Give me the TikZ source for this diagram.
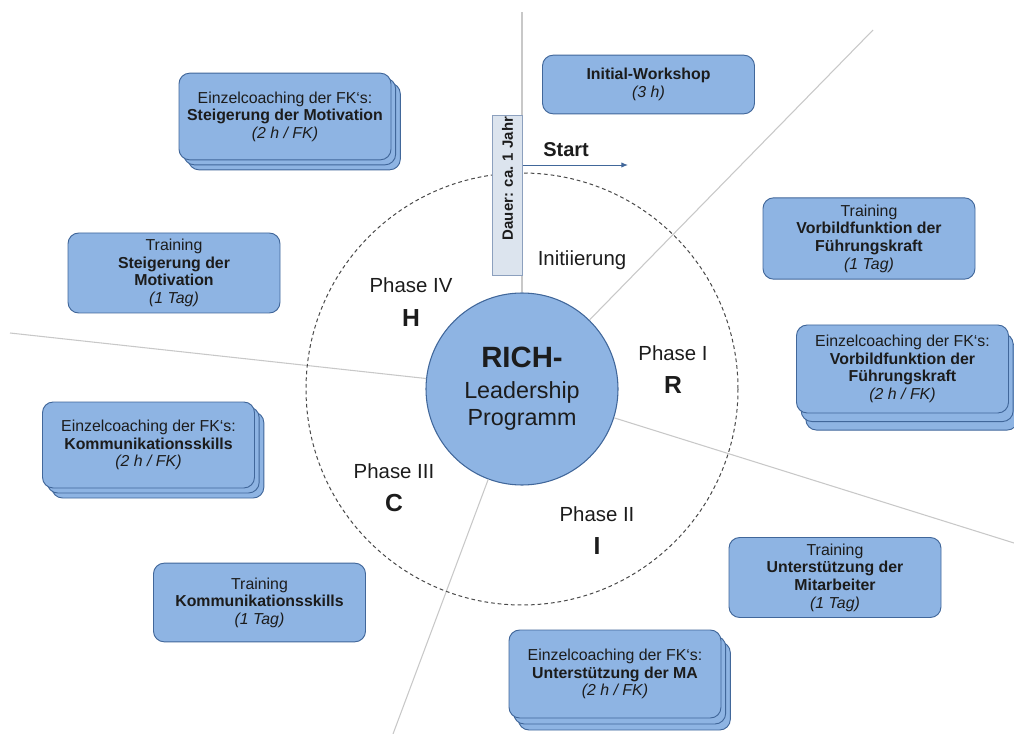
\documentclass[tikz,border=0pt]{standalone}
\usepackage{fontspec}
\setmainfont{Liberation Sans}
\usepackage{xcolor}
\usepackage{tikz}
\usetikzlibrary{arrows.meta,positioning,shadows}
\definecolor{PhaseBlue}{HTML}{8EB4E3}
\definecolor{EdgeBlue}{HTML}{41679A}
\definecolor{PaleBlue}{HTML}{DCE4EE}
\definecolor{PaleEdge}{HTML}{8CA0BE}
\definecolor{RayGray}{HTML}{C8C8C8}
\definecolor{Ink}{HTML}{1C1C1C}

\begin{document}
\begin{tikzpicture}[
  x=0.75pt,y=-0.75pt,
  every node/.style={text=Ink},
  box/.style={draw=EdgeBlue,line width=0.7pt,rounded corners=8pt,fill=PhaseBlue,minimum width=159pt,inner sep=3pt,align=center,font=\fontsize{11.9}{13.2}\selectfont},
  stack/.style 2 args={box,
    copy shadow={shadow xshift=7pt,shadow yshift=#2,fill=PhaseBlue,draw=EdgeBlue,line width=0.7pt},
    copy shadow={shadow xshift=3.5pt,shadow yshift=#1,fill=PhaseBlue,draw=EdgeBlue,line width=0.7pt}},
  hub/.style={circle,draw=EdgeBlue,line width=0.8pt,fill=PhaseBlue,minimum size=144pt,inner sep=0pt,align=center,font=\fontsize{17.5}{20.25}\selectfont},
  phase/.style={inner sep=0pt,font=\fontsize{15.3}{18}\selectfont},
  letter/.style={inner sep=0pt,font=\fontsize{18.5}{20}\selectfont\bfseries},
  dauer/.style={draw=PaleEdge,fill=PaleBlue,line width=0.6pt,rotate=90,minimum width=120pt,minimum height=23pt,text width=117pt,inner xsep=1.5pt,align=flush right,font=\fontsize{11.2}{13}\selectfont\bfseries},
  ray/.style={draw=RayGray,line width=0.8pt},
  arr/.style={-{Latex[length=5pt,width=4pt]},line width=0.7pt,draw=EdgeBlue}
]
\useasboundingbox (0,0) rectangle (1014,734);

% programme hub and the phase sectors
\node[hub] (rich) at (522,389) {{\fontsize{22}{24}\selectfont\bfseries RICH-}\\[3pt]Leadership\\Programm};
\coordinate (raytop) at (522,12);
\coordinate (rayne) at (873,30);
\coordinate (raye) at (1014,543);
\coordinate (raysw) at (393,734);
\coordinate (rayw) at (10,333);
\foreach \c in {raytop,rayne,raye,raysw,rayw}
  \draw[ray] (rich) -- (\c);
\draw[Ink!80,dash pattern=on 2.8pt off 2.2pt,line width=0.75pt] (rich.center) circle[radius=216];

% phase labels
\node[phase,anchor=base] (init) at (582,266) {Initiierung};
\node[phase,anchor=base] (p1) at (673,360) {Phase I};
\node[letter,below=11.5pt of p1] (r) {R};
\node[phase,anchor=base] (p2) at (597,521) {Phase II};
\node[letter,below=11.5pt of p2] (i) {I};
\node[phase,anchor=base] (p3) at (394,478) {Phase III};
\node[letter,below=11.5pt of p3] (c) {C};
\node[phase,anchor=base] (p4) at (411,293) {Phase IV};
\node[letter,below=11.5pt of p4] (h) {H};

% duration bar and start
\node[dauer] (dauer) at (507.5,195) {Dauer: ca. 1 Jahr};
\coordinate (startend) at (628,165);
\draw[arr] (dauer.south |- startend) -- (startend);
\node[inner sep=0pt,anchor=base west,font=\fontsize{15}{18}\selectfont\bfseries] (start) at (543,157) {Start};

% workshops, trainings and coachings
\node[box,minimum height=44pt] (workshop) at (648.5,84.5) {\textbf{Initial-Workshop}\\\textit{(3 h)}};
\node[stack={-3.75pt}{-7.5pt},minimum height=65pt] (coachmot) at (285,116.5) {Einzelcoaching der FK‘s:\\\textbf{Steigerung der Motivation}\\\textit{(2 h / FK)}};
\node[box,minimum height=60pt] (trainmot) at (174,273) {Training\\\textbf{Steigerung der}\\\textbf{Motivation}\\\textit{(1 Tag)}};
\node[box,minimum height=61pt] (trainvor) at (869,238.5) {Training\\\textbf{Vorbildfunktion der}\\\textbf{Führungskraft}\\\textit{(1 Tag)}};
\node[stack={-6.4pt}{-12.8pt},minimum height=66pt] (coachvor) at (902.5,369) {Einzelcoaching der FK‘s:\\\textbf{Vorbildfunktion der}\\\textbf{Führungskraft}\\\textit{(2 h / FK)}};
\node[stack={-3.75pt}{-7.5pt},minimum height=64.5pt] (coachkom) at (148.5,445) {Einzelcoaching der FK‘s:\\\textbf{Kommunikationsskills}\\\textit{(2 h / FK)}};
\node[box,minimum height=60pt] (trainma) at (835,577.5) {Training\\\textbf{Unterstützung der}\\\textbf{Mitarbeiter}\\\textit{(1 Tag)}};
\node[box,minimum height=59pt] (trainkom) at (259.5,602.5) {Training\\\textbf{Kommunikationsskills}\\\textit{(1 Tag)}};
\node[stack={-4.5pt}{-9pt},minimum height=66pt] (coachma) at (615,674) {Einzelcoaching der FK‘s:\\\textbf{Unterstützung der MA}\\\textit{(2 h / FK)}};
\end{tikzpicture}
\end{document}
